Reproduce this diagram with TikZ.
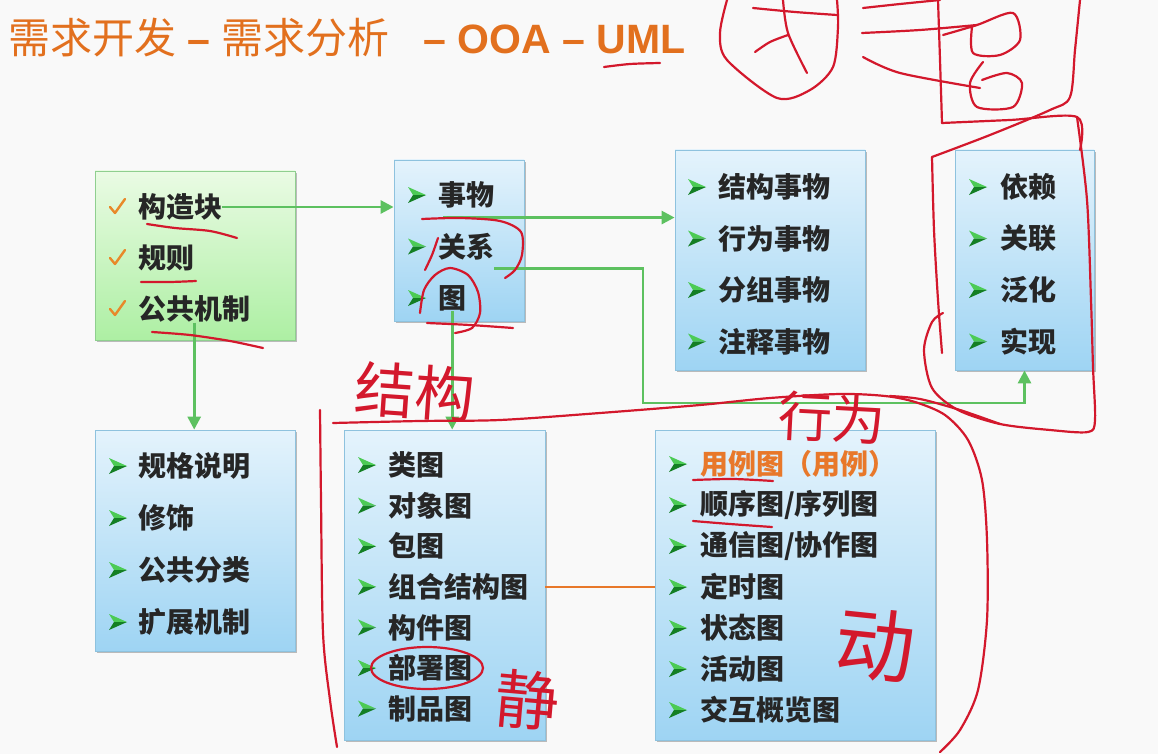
\documentclass[tikz,border=0pt]{standalone}
\usepackage{fontspec}
\newfontfamily\cjk{Noto Sans CJK SC}
\newfontfamily\latinsans{Liberation Sans}
\usetikzlibrary{shadows,calc,arrows.meta}

\definecolor{pagebg}{HTML}{F9F9F9}
\definecolor{titleorange}{HTML}{E2701E}
\definecolor{boxtop}{HTML}{E4F3FC}
\definecolor{boxbot}{HTML}{9ED4F3}
\definecolor{boxedge}{HTML}{8EC2DE}
\definecolor{greentop}{HTML}{EAFBE4}
\definecolor{greenbot}{HTML}{ADEFA3}
\definecolor{greenedge}{HTML}{8FCF8F}
\definecolor{itemtext}{HTML}{262626}
\definecolor{linkgreen}{HTML}{5DC160}
\definecolor{linkorange}{HTML}{E8782A}
\definecolor{bulhi}{HTML}{4CCB55}
\definecolor{bullo}{HTML}{147F24}
\definecolor{checkorange}{HTML}{E8892A}
\definecolor{ink}{HTML}{D3182C}

\tikzset{
  box/.style={draw=boxedge, line width=0.8, top color=boxtop, bottom color=boxbot,
    inner sep=0, drop shadow={shadow xshift=2pt, shadow yshift=-2pt, opacity=0.25, fill=black}},
  greenbox/.style={box, draw=greenedge, top color=greentop, bottom color=greenbot},
  item/.style={anchor=west, inner sep=0, text=itemtext,
    font=\cjk\bfseries\fontsize{28}{30}\selectfont},
  glink/.style={draw=linkgreen, line width=2.8, -{Triangle[length=13pt,width=13pt]}},
  olink/.style={draw=linkorange, line width=2.6},
  inkline/.style={draw=ink, line width=2.2, line cap=round, line join=round},
  inktext/.style={text=ink, inner sep=0, font=\cjk\fontsize{#1}{#1}\selectfont},
  gbul/.pic={
    \fill[bulhi] (-9,-8) -- (9,0) -- (-4,0) -- cycle;
    \fill[bullo] (-4,0) -- (9,0) -- (-9,8) -- cycle;
  },
  ocheck/.pic={
    \draw[checkorange, line width=2.4, line cap=round, line join=round]
      (-7,0) -- (-2,6) -- (8,-8);
  }
}

\begin{document}
\begin{tikzpicture}[x=1pt, y=-1pt]
\useasboundingbox (0,0) rectangle (1158,754);
\fill[pagebg] (0,0) rectangle (1158,754);

% title
\node[anchor=west, inner sep=0, text=titleorange] (title) at (8,38)
  {{\cjk\fontsize{42}{46}\selectfont 需求开发}{\latinsans\bfseries\fontsize{41}{44}\selectfont\ –\ }{\cjk\fontsize{42}{46}\selectfont 需求分析}\hspace{34pt}{\latinsans\bfseries\fontsize{41}{44}\selectfont – OOA – UML}};

% boxes
\node[greenbox, minimum width=200, minimum height=169] (b1) at (195,255.5) {};
\node[box, minimum width=130, minimum height=161] (b2) at (459,240.5) {};
\node[box, minimum width=190, minimum height=220] (b3) at (770,260) {};
\node[box, minimum width=139, minimum height=220] (b4) at (1024.5,260) {};
\node[box, minimum width=200, minimum height=221] (b5) at (195,540.5) {};
\node[box, minimum width=201, minimum height=310] (b6) at (444.5,585) {};
\node[box, minimum width=280, minimum height=310] (b7) at (795,585) {};

% building blocks, rules, common mechanisms
\foreach \t [count=\i] in {构造块,规则,公共机制} {
  \pic at (117,{207+(\i-1)*51}) {ocheck};
  \node[item] (b1-\i) at (138,{207+(\i-1)*51}) {\t};
}
% things, relationships, diagrams
\foreach \t [count=\i] in {事物,关系,图} {
  \pic at (417,{195+(\i-1)*51.5}) {gbul};
  \node[item] (b2-\i) at (438,{195+(\i-1)*51.5}) {\t};
}
\foreach \t [count=\i] in {结构事物,行为事物,分组事物,注释事物} {
  \pic at (697,{187+(\i-1)*51.5}) {gbul};
  \node[item] (b3-\i) at (718,{187+(\i-1)*51.5}) {\t};
}
\foreach \t [count=\i] in {依赖,关联,泛化,实现} {
  \pic at (978,{187+(\i-1)*51.5}) {gbul};
  \node[item] (b4-\i) at (1000,{187+(\i-1)*51.5}) {\t};
}
\foreach \t [count=\i] in {规格说明,修饰,公共分类,扩展机制} {
  \pic at (118,{466+(\i-1)*52}) {gbul};
  \node[item] (b5-\i) at (138,{466+(\i-1)*52}) {\t};
}
% structural diagrams
\foreach \t [count=\i] in {类图,对象图,包图,组合结构图,构件图,部署图,制品图} {
  \pic at (367,{465+(\i-1)*40.6}) {gbul};
  \node[item] (b6-\i) at (388,{465+(\i-1)*40.6}) {\t};
}
% behavioural diagrams
\pic at (678,464) {gbul};
\node[item, text=linkorange] (b7-1) at (700,464) {用例图（用例）};
\foreach \t [count=\i from 2] in {顺序图/序列图,通信图/协作图,定时图,状态图,活动图,交互概览图} {
  \pic at (678,{464+(\i-1)*41}) {gbul};
  \node[item] (b7-\i) at (700,{464+(\i-1)*41}) {\t};
}

% connectors
\draw[glink] (b1-1.east) -- (b1-1.east -| b2.west);
\coordinate (s1) at ($(b2-1.south west)+(5,9)$);
\draw[glink] (s1) -- (s1 -| b3.west);
\coordinate (s2) at ($(b2-2.south east)+(0,8)$);
\coordinate (k1) at (643,403);
\draw[glink] (s2) -| (k1) -| (b4.south);
\draw[glink] (b2-3.south) -- (b2-3.south |- b6.north);
\draw[glink] (b1-3.south) -- (b1-3.south |- b5.north);
\draw[olink] (b6.east |- b6-4) -- (b7.west |- b6-4);

% red pen annotations
\draw[inkline] plot[smooth] coordinates {(604,67) (630,64) (660,63)};
\draw[inkline] plot[smooth] coordinates {(147,224) (175,228) (210,231) (237,238)};
\draw[inkline] plot[smooth] coordinates {(141,282) (170,282) (196,281)};
\draw[inkline] plot[smooth] coordinates {(152,332) (190,335) (230,341) (263,348)};
\draw[inkline] plot[smooth] coordinates {(422,219) (460,218) (500,221) (521,232) (522,255) (515,270) (505,278)};
\draw[inkline] plot[smooth] coordinates {(438,238) (432,255) (425,270)};
\draw[inkline] plot[smooth] coordinates {(420,313) (424,290) (435,275) (450,268) (468,275) (478,292) (480,313) (472,328) (455,333)};
\draw[inkline] plot[smooth] coordinates {(427,323) (470,325) (513,328)};

% character sketch, upper right
\draw[inkline] plot[smooth] coordinates {(727,0) (720,33) (727,60) (777,98) (810,90) (833,67) (838,27) (837,0)};
\draw[inkline] plot[smooth] coordinates {(753,8) (795,12) (837,15)};
\draw[inkline] plot[smooth] coordinates {(783,0) (788,33) (807,73)};
\draw[inkline] plot[smooth] coordinates {(755,52) (770,42) (788,35)};
\draw[inkline] plot[smooth] coordinates {(863,8) (900,4) (940,0)};
\draw[inkline] plot[smooth] coordinates {(862,33) (920,30) (977,25)};
\draw[inkline] plot[smooth] coordinates {(863,57) (900,73) (980,88)};
\draw[inkline] plot[smooth] coordinates {(938,0) (940,60) (942,123)};
\draw[inkline] plot[smooth] coordinates {(943,35) (977,25) (1013,13) (1020,40) (1000,55) (973,53) (972,27)};
\draw[inkline] plot[smooth] coordinates {(983,62) (970,83) (977,107) (1013,107) (1022,83) (1007,73) (982,80)};
\draw[inkline] plot[smooth] coordinates {(942,123) (1010,120) (1077,117) (1080,150)};
\draw[inkline] plot[smooth] coordinates {(1080,0) (1075,50) (1070,97) (1050,110) (990,135) (932,157)};

% loop round the relationships box
\draw[inkline] plot[smooth] coordinates {(932,157) (934,230) (938,300) (942,353)};
\draw[inkline] plot[smooth] coordinates {(1077,117) (1087,200) (1091,300) (1093,367) (1095,420) (1088,432) (1050,430) (1000,424) (958,410) (932,388) (924,350) (932,322) (943,313)};
\draw[inkline] plot[smooth] coordinates {(1000,424) (960,410) (920,399) (890,396)};

% structural bracket and dividing stroke
\draw[inkline] plot[smooth] coordinates {(320,410) (321,500) (323,633) (330,700) (337,747)};
\draw[inkline] plot[smooth] coordinates {(333,423) (420,421) (500,420) (600,413) (700,405) (770,398) (840,394) (885,396) (915,402) (945,415) (968,440) (982,480) (987,540) (987,620) (978,690) (960,730) (940,752)};

% underlines and circle in the diagram boxes
\draw[inkline] plot[smooth] coordinates {(693,480) (733,479) (773,481)};
\draw[inkline] plot[smooth] coordinates {(693,521) (730,524) (772,527)};
\draw[inkline] (427,668) ellipse [x radius=56, y radius=21];

% handwritten words
\node[inktext=60, rotate=-4] (w1) at (415,392) {结构};
\node[inktext=54, rotate=-3] (w2) at (832,418) {行为};
\node[inktext=80, rotate=-6] (w3) at (875,645) {动};
\node[inktext=64, rotate=-5] (w4) at (527,700) {静};
\end{tikzpicture}
\end{document}
